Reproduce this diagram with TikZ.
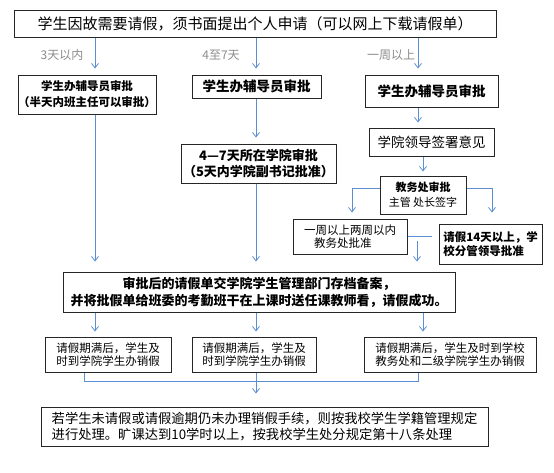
\documentclass[tikz,border=0pt]{standalone}
\usepackage{fontspec}
\setmainfont{Noto Sans CJK SC}
\usetikzlibrary{arrows.meta}
\definecolor{arrowblue}{HTML}{5B8FD3}
\newcommand\myfs[2]{\fontsize{#1}{#2}\selectfont}
\begin{document}
\begin{tikzpicture}[x=1pt,y=-1pt,
  box/.style={draw=black!85,line width=1pt,inner sep=0pt,anchor=center},
  arr/.style={draw=arrowblue,line width=0.8pt,-{Straight Barb[length=4.5pt,width=7pt]}},
  ln/.style={draw=arrowblue,line width=0.8pt},
  lbl/.style={text=black!45,inner sep=0pt,font=\myfs{12}{14}}]
\useasboundingbox[fill=white] (0,0) rectangle (554,472);

% column coordinates
\coordinate (c1) at (95,0);
\coordinate (c2) at (256,0);
\coordinate (c3) at (418,0);
\coordinate (c4) at (423,0);

\node[box,minimum width=482pt,minimum height=27pt,font=\myfs{15}{18}] (top) at (255,23.5)
  {学生因故需要请假，须书面提出个人申请（可以网上下载请假单）};

\node[lbl] (l1) at (62,55) {3天以内};
\node[lbl] (l2) at (221,55) {4至7天};
\node[lbl] (l3) at (391,55) {一周以上};

\node[box,minimum width=134pt,minimum height=39pt,align=center,font=\bfseries\myfs{11.5}{16}] (A) at (87,94.5)
  {学生办辅导员审批\\（半天内班主任可以审批）};
\node[box,minimum width=129pt,minimum height=23pt,font=\bfseries\myfs{13.5}{16}] (B) at (256.5,86.5)
  {学生办辅导员审批};
\node[box,minimum width=133pt,minimum height=32pt,font=\bfseries\myfs{13.5}{16}] (C) at (431.5,91)
  {学生办辅导员审批};

\node[box,minimum width=155pt,minimum height=39pt,align=center,font=\bfseries\myfs{13}{16}] (D) at (258.5,163.5)
  {4—7天所在学院审批\\（5天内学院副书记批准）};
\node[box,minimum width=125pt,minimum height=28pt,font=\myfs{13.5}{16}] (E) at (431.5,142)
  {学院领导签署意见};
\node[box,minimum width=86pt,minimum height=38pt,align=center,font=\myfs{11}{15}] (F) at (423,195)
  {\textbf{教务处审批}\\主管 处长签字};
\node[box,minimum width=114pt,minimum height=35pt,align=left,font=\myfs{11.5}{13.5}] (G) at (350,236.5)
  {一周以上两周以内\\\hspace{10pt}教务处批准};
\node[box,minimum width=103pt,minimum height=40pt,align=left,font=\bfseries\myfs{11.5}{14}] (H) at (490.5,244)
  {请假14天以上，学\\校分管领导批准};

\node[box,minimum width=392pt,minimum height=40pt,align=center,font=\bfseries\myfs{13}{17}] (I) at (259,292)
  {审批后的请假单交学院学生管理部门存档备案，\\并将批假单给班委的考勤班干在上课时送任课教师看，请假成功。};

\node[box,minimum width=126pt,minimum height=35pt,align=left,font=\myfs{11.5}{13.5}] (J) at (108,354.5)
  {请假期满后，学生及\\时到学院学生办销假};
\node[box,minimum width=124pt,minimum height=35pt,align=left,font=\myfs{11.5}{13.5}] (K) at (254,354.5)
  {请假期满后，学生及\\时到学院学生办销假};
\node[box,minimum width=172pt,minimum height=35pt,align=left,font=\myfs{11.5}{13.5}] (L) at (450,354.5)
  {请假期满后，学生及时到学校\\教务处和二级学院学生办销假};

\node[box,minimum width=447pt,minimum height=39pt,align=left,font=\myfs{13.3}{16}] (M) at (264.5,426.5)
  {若学生未请假或请假逾期仍未办理销假手续，则按我校学生学籍管理规定\\进行处理。旷课达到10学时以上，按我校学生处分规定第十八条处理};

% top to row 2
\draw[arr,shorten >=6pt] (top.south -| c1) -- (A.north -| c1);
\draw[arr,shorten >=6pt] (top.south -| c2) -- (B.north -| c2);
\draw[arr,shorten >=6pt] (top.south -| c3) -- (C.north -| c3);

% column 1 and 2
\draw[arr,shorten >=10pt] (A.south -| c1) -- (I.north -| c1);
\draw[arr,shorten >=6pt] (B.south -| c2) -- (D.north -| c2);
\draw[arr,shorten >=10pt] (D.south -| c2) -- (I.north -| c2);

% column 3
\draw[arr,shorten >=5pt] (C.south -| c3) -- (E.north -| c3);
\draw[arr,shorten >=4pt] (E.south -| c4) -- (F.north -| c4);
\coordinate (fl) at (352,188);
\coordinate (fr) at (492,188);
\draw[arr,shorten >=6pt] (F.west |- fl) -| (G.north -| fl);
\draw[arr,shorten >=11pt] (F.east |- fr) -| (H.north -| fr);
\coordinate (gh) at (432,236);
\draw[ln] (G.east |- gh) -- (gh);
\coordinate (jt) at (417,241);
\draw[arr,shorten >=10pt] (jt) -- (I.north -| jt);

% I to row 4
\draw[arr,shorten >=5pt] (I.south -| c1) -- (J.north -| c1);
\draw[arr,shorten >=5pt] (I.south -| c2) -- (K.north -| c2);
\draw[arr,shorten >=5pt] (I.south -| c4) -- (L.north -| c4);

% merge
\coordinate (m1) at (84,381);
\coordinate (m3) at (418,381);
\draw[ln] (J.south -| m1) -- (m1) -- (m3) -- (L.south -| m3);
\draw[arr,shorten >=13pt] (K.south -| c2) -- (M.north -| c2);
\end{tikzpicture}
\end{document}
